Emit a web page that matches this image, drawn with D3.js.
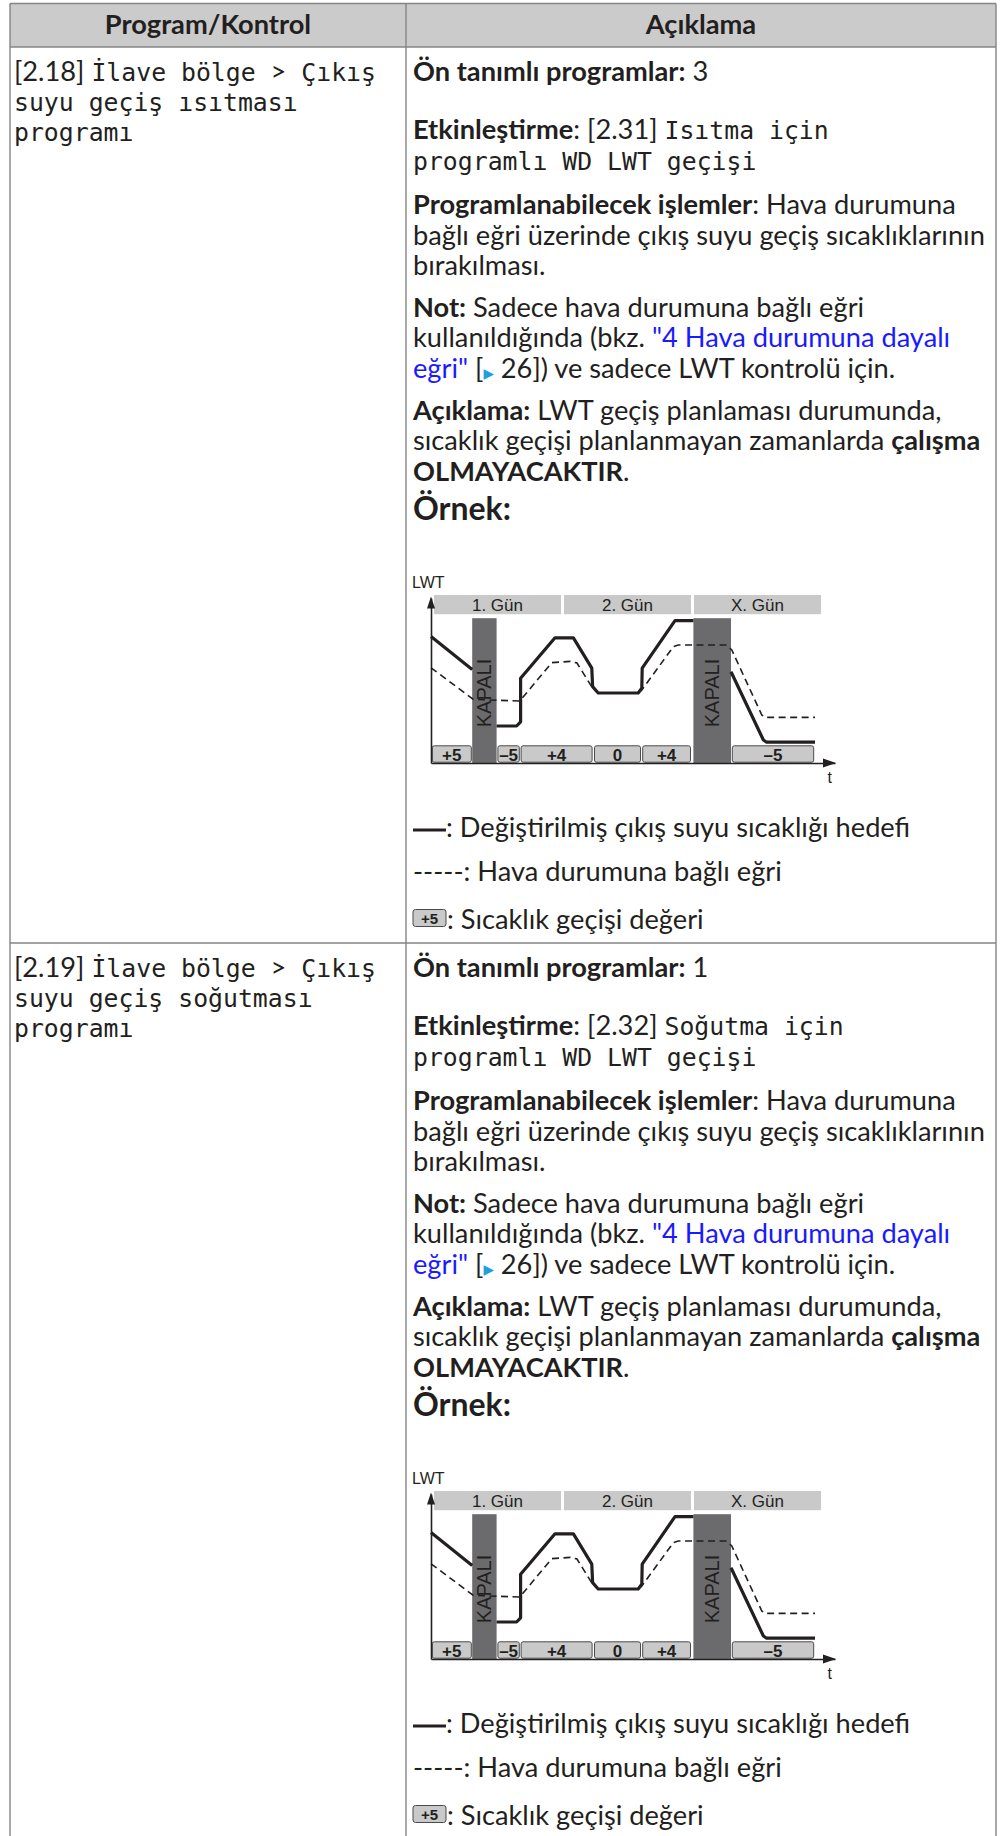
<!DOCTYPE html>
<html><head><meta charset="utf-8">
<script src="https://cdn.jsdelivr.net/npm/d3@7"></script>
<style>
body{margin:0;background:#fff}
svg{display:block}
text{fill:#231f20;white-space:pre}
.r{font-family:Lato;font-weight:400}
.b{font-family:Lato;font-weight:700}
.m{font-family:'DejaVu Sans Mono';font-weight:400}
.l{font-family:Lato;font-weight:400;fill:#1a1aff}
.a{font-family:'DejaVu Sans';fill:#1ea0dc}
.dg{font-family:'Liberation Sans',Arial,sans-serif}
</style>
</head><body>
<svg id="c" width="1003" height="1836"></svg>
<script>
// ---------- DATA ----------
const headers = ["Program/Kontrol", "Açıklama"];
const rowCodes = ["[2.18] ", "[2.19] "];
const rowNames = ["suyu geçiş ısıtması", "suyu geçiş soğutması"];
const rowDefaults = [" 3", " 1"];
const rowActivation = [": [2.31] ", ": [2.32] "];
const rowActivationName = ["Isıtma için", "Soğutma için"];

const dayLabels = ["1. Gün", "2. Gün", "X. Gün"];
const dayStart = [0.75, 33.25, 65.75];
const dayEnd = [32.5, 65.0, 97.5];

const offLabel = "KAPALI";
const offStart = [10.3, 65.6];
const offEnd = [16.4, 75.0];

const shiftLabels = ["+5", "–5", "+4", "0", "+4", "–5"];
const shiftStart = [0.2, 16.6, 22.4, 40.75, 52.8, 75.2];
const shiftEnd = [10.2, 22.2, 40.4, 52.5, 65.0, 95.8];

// modified leaving-water-temperature target (solid), in three pieces
const solidT = [
  [0, 10.3],
  [16.4, 21.4, 22.4, 22.4, 31.0, 35.6, 40.2, 40.4, 41.8, 51.8, 52.7, 52.8, 61.0, 65.6],
  [75.0, 83.1, 83.9, 96.0]
];
const solidV = [
  [31.6, 23.4],
  [9.25, 9.25, 10.3, 21.2, 31.3, 31.3, 23.7, 19.1, 17.5, 17.5, 18.7, 23.7, 35.6, 35.6],
  [22.8, 5.75, 5.2, 5.2]
];
// weather dependent curve (dashed)
const dashT = [0, 10.6, 22.2, 30.2, 34.8, 36.5, 40.4, 41.8, 51.8, 52.7, 60.6, 61.8, 73.9, 75.2, 82.7, 83.5, 96.0];
const dashV = [23.8, 15.9, 15.5, 25.1, 25.4, 25.0, 18.7, 17.5, 17.5, 18.25, 29.1, 29.5, 29.5, 28.25, 12.0, 11.4, 11.4];

const legendTexts = [": Değiştirilmiş çıkış suyu sıcaklığı hedefi", ": Hava durumuna bağlı eğri", ": Sıcaklık geçişi değeri"];
const legendSample = "+5";

// ---------- LAYOUT ----------
const svg = d3.select("#c");
const T = {left: 10, right: 996, mid: 406, top: 3.5, headBot: 47, rowDiv: 943, bottom: 1836};
const rowOffset = 896;
const textX = 413, leftX = 14;

function measure(str, cls, size) {
  const t = svg.append("text").attr("class", cls).style("font-size", size + "px").text(str);
  const w = t.node().getComputedTextLength(); t.remove(); return w;
}
const bodySize = 24 * 572 / measure("bağlı eğri üzerinde çıkış suyu geçiş sıcaklıklarının", "r", 24);
const bigSize = 24 * 98 / measure("Örnek:", "b", 24);
const monoSize = 24.8;
d3.select("head").append("style").text(
  `.r,.b,.l{font-size:${bodySize}px}.m{font-size:${monoSize}px}.a{font-size:${bodySize*0.5}px}.big{font-size:${bigSize}px}`);

// header
svg.append("rect").attr("x", T.left).attr("y", T.top).attr("width", T.right - T.left)
  .attr("height", T.headBot - T.top).attr("fill", "#cbcbcb");

function line(g, x, y, segs, anchor) {
  const t = g.append("text").attr("x", x).attr("y", y).attr("text-anchor", anchor || "start");
  segs.forEach(([k, s]) => t.append("tspan").attr("class", k).text(s));
  return t;
}
line(svg, (T.left + T.mid) / 2, 33.5, [["b", headers[0]]], "middle");
line(svg, (T.mid + T.right) / 2, 33.5, [["b", headers[1]]], "middle");

// grid lines
const gl = svg.append("g").attr("stroke", "#858585").attr("stroke-width", 1.4);
[T.left, T.mid, T.right].forEach(x => gl.append("line").attr("x1", x).attr("x2", x).attr("y1", T.top).attr("y2", T.bottom));
[T.top, T.headBot, T.rowDiv].forEach(y => gl.append("line").attr("x1", T.left).attr("x2", T.right).attr("y1", y).attr("y2", y));

// diagram scales
const x = d3.scaleLinear().domain([0, 101]).range([431, 835]);
const y = d3.scaleLinear().domain([0, 41.25]).range([763, 598]);

function drawDiagram(g) {
  // day header boxes
  g.selectAll(".day").data(dayLabels).join("rect")
    .attr("x", (d, i) => x(dayStart[i])).attr("width", (d, i) => x(dayEnd[i]) - x(dayStart[i]))
    .attr("y", y(42)).attr("height", y(37.2) - y(42)).attr("fill", "#c9c9c9");
  g.selectAll(".dayl").data(dayLabels).join("text").attr("class", "dg")
    .attr("x", (d, i) => (x(dayStart[i]) + x(dayEnd[i])) / 2).attr("y", y(38.0))
    .attr("text-anchor", "middle").style("font-size", "17px").text(d => d);
  // off bars
  g.selectAll(".off").data(offStart).join("rect")
    .attr("x", (d, i) => x(d)).attr("width", (d, i) => x(offEnd[i]) - x(d))
    .attr("y", y(36.2)).attr("height", y(0) - y(36.2)).attr("fill", "#6b6b6d");
  // shift boxes
  g.selectAll(".sh").data(shiftLabels).join("rect")
    .attr("x", (d, i) => x(shiftStart[i]) + 0.5).attr("width", (d, i) => x(shiftEnd[i]) - x(shiftStart[i]) - 1)
    .attr("y", y(4.3)).attr("height", y(0.2) - y(4.3)).attr("rx", 2)
    .attr("fill", "#c9c9c9").attr("stroke", "#4a4a4a").attr("stroke-width", 1);
  g.selectAll(".shl").data(shiftLabels).join("text").attr("class", "dg")
    .attr("x", (d, i) => (x(shiftStart[i]) + x(shiftEnd[i])) / 2).attr("y", y(0.55))
    .attr("text-anchor", "middle").style("font-size", "17px").style("font-weight", "700").text(d => d);
  // off labels
  g.selectAll(".offl").data(offStart).join("text").attr("class", "dg")
    .attr("transform", (d, i) => `translate(${(x(d) + x(offEnd[i])) / 2 + 7},${y(17.5)}) rotate(-90)`)
    .attr("text-anchor", "middle").style("font-size", "20px").text(offLabel);
  // dashed curve
  const ln = d3.line().x(d => x(d[0])).y(d => y(d[1]));
  g.append("path").attr("d", ln(dashT.map((t, i) => [t, dashV[i]])))
    .attr("fill", "none").attr("stroke", "#231f20").attr("stroke-width", 1.6).attr("stroke-dasharray", "7,4.5");
  // solid pieces
  solidT.forEach((ts, k) => {
    g.append("path").attr("d", ln(ts.map((t, i) => [t, solidV[k][i]])))
      .attr("fill", "none").attr("stroke", "#231f20").attr("stroke-width", 3.2)
      .attr("stroke-linejoin", "round");
  });
  // axes
  const ax = g.append("g").attr("transform", `translate(0,${y(0)})`)
    .call(d3.axisBottom(x).tickValues([]).tickSizeOuter(0));
  ax.select(".domain").attr("stroke", "#231f20").attr("stroke-width", 1.6);
  const ay = g.append("g").attr("transform", `translate(${x(0)},0)`)
    .call(d3.axisLeft(y).tickValues([]).tickSizeOuter(0));
  ay.select(".domain").attr("stroke", "#231f20").attr("stroke-width", 1.6);
  // arrow heads
  const tipX = x(101) + 1, tipY = y(41.25) - 1.5;
  g.append("path").attr("d", `M${tipX},${y(0)}L${tipX - 13},${y(0) - 4.5}L${tipX - 13},${y(0) + 4.5}Z`).attr("fill", "#231f20");
  g.append("path").attr("d", `M${x(0)},${tipY}L${x(0) - 4},${tipY + 12}L${x(0) + 4},${tipY + 12}Z`).attr("fill", "#231f20");
  g.append("text").attr("class", "dg").attr("x", x(-4.75)).attr("y", y(43.75)).style("font-size", "16px").text("LWT");
  g.append("text").attr("class", "dg").attr("x", x(99.7)).attr("y", y(-5)).attr("text-anchor", "middle").style("font-size", "16px").text("t");
}

function drawRow(k) {
  const g = svg.append("g").attr("transform", `translate(0,${k * rowOffset})`);
  line(g, leftX, 81, [["r", rowCodes[k]], ["m", "İlave bölge "], ["r", ">"], ["m", " Çıkış"]]);
  line(g, leftX, 111, [["m", rowNames[k]]]);
  line(g, leftX, 141, [["m", "programı"]]);

  line(g, textX, 81, [["b", "Ön tanımlı programlar:"], ["r", rowDefaults[k]]]);
  line(g, textX, 139, [["b", "Etkinleştirme"], ["r", rowActivation[k]], ["m", rowActivationName[k]]]);
  line(g, textX, 169.5, [["m", "programlı WD LWT geçişi"]]);
  line(g, textX, 214, [["b", "Programlanabilecek işlemler"], ["r", ": Hava durumuna"]]);
  line(g, textX, 244.5, [["r", "bağlı eğri üzerinde çıkış suyu geçiş sıcaklıklarının"]]);
  line(g, textX, 275, [["r", "bırakılması."]]);
  line(g, textX, 317, [["b", "Not:"], ["r", " Sadece hava durumuna bağlı eğri"]]);
  line(g, textX, 347.4, [["r", "kullanıldığında (bkz. "], ["l", "\"4 Hava durumuna dayalı"]]);
  line(g, textX, 377.8, [["l", "eğri\""], ["r", " ["], ["a", "▶"], ["r", " 26]) ve sadece LWT kontrolü için."]]);
  line(g, textX, 420, [["b", "Açıklama:"], ["r", " LWT geçiş planlaması durumunda,"]]);
  line(g, textX, 450.4, [["r", "sıcaklık geçişi planlanmayan zamanlarda "], ["b", "çalışma"]]);
  line(g, textX, 480.8, [["b", "OLMAYACAKTIR"], ["r", "."]]);
  line(g, textX, 520, [["b big", "Örnek:"]]);

  drawDiagram(g);

  // legend
  g.append("line").attr("x1", 413).attr("x2", 446).attr("y1", 830).attr("y2", 830)
    .attr("stroke", "#231f20").attr("stroke-width", 3);
  line(g, 446, 837, [["r", legendTexts[0]]]);
  line(g, 413, 881, [["r", "-----"], ["r", legendTexts[1]]]);
  g.append("rect").attr("x", 413).attr("y", 909.5).attr("width", 33).attr("height", 17).attr("rx", 2.5)
    .attr("fill", "#c9c9c9").attr("stroke", "#4a4a4a");
  g.append("text").attr("class", "dg").attr("x", 429.5).attr("y", 923.5).attr("text-anchor", "middle")
    .style("font-size", "15px").style("font-weight", "700").text(legendSample);
  line(g, 447, 929, [["r", legendTexts[2]]]);
}
drawRow(0);
drawRow(1);
</script>
</body></html>
